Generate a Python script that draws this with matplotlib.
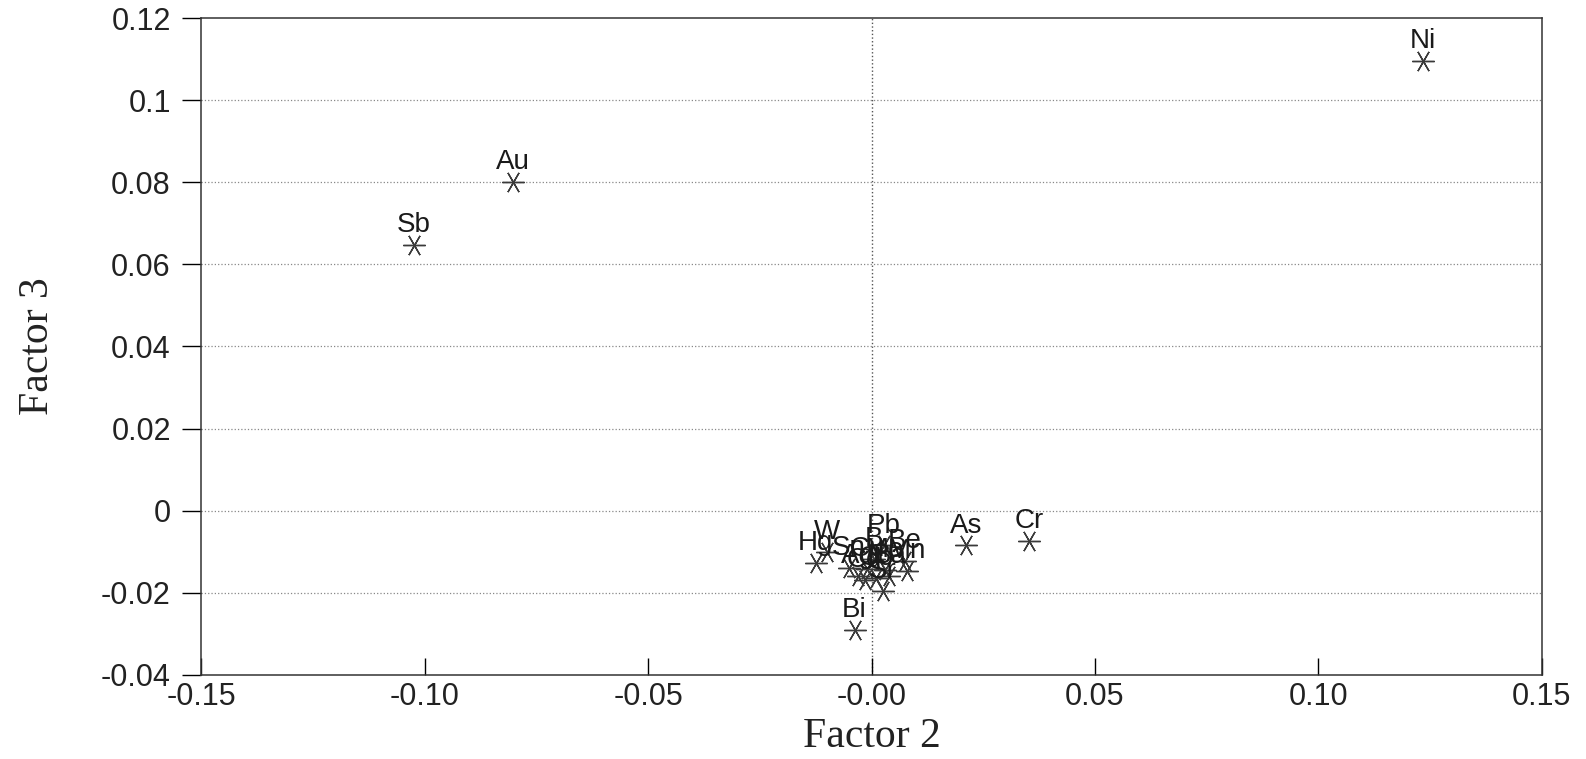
import matplotlib
matplotlib.use("Agg")
import matplotlib.pyplot as plt
import numpy as np

# element loadings on factor 2 / factor 3
elements = ["Ni", "Au", "Sb", "As", "Cr", "Bi",
            "W", "Hg", "Pb", "B", "Be", "Sn", "Cu", "Mo", "Mn",
            "Ag", "Co", "Ba", "Cd", "Sr"]
factor2 = [0.1235, -0.0802, -0.1024, 0.0211, 0.0352, -0.0038,
           -0.0100, -0.0125, 0.0028, 0.0005, 0.0075, -0.0050, -0.0010, 0.0030, 0.0080,
           -0.0030, 0.0010, 0.0040, -0.0015, 0.0025]
factor3 = [0.1096, 0.0800, 0.0648, -0.0085, -0.0073, -0.0292,
           -0.0100, -0.0128, -0.0085, -0.0118, -0.0122, -0.0140, -0.0143, -0.0145, -0.0148,
           -0.0160, -0.0165, -0.0160, -0.0170, -0.0195]

xticks = [-0.15, -0.10, -0.05, 0.0, 0.05, 0.10, 0.15]
xticklabels = ["-0.15", "-0.10", "-0.05", "-0.00", "0.05", "0.10", "0.15"]
yticks = [-0.04, -0.02, 0.0, 0.02, 0.04, 0.06, 0.08, 0.10, 0.12]
yticklabels = ["-0.04", "-0.02", "0", "0.02", "0.04", "0.06", "0.08", "0.1", "0.12"]

fig = plt.figure(figsize=(15.86, 7.59), dpi=100)
ax = fig.add_axes([0.127, 0.111, 0.845, 0.865])

ax.set_xlim(-0.15, 0.15)
ax.set_ylim(-0.04, 0.12)

# dotted reference lines
for y in yticks[1:-1]:
    ax.axhline(y, color="#888888", linestyle=":", linewidth=0.9, zorder=1)
ax.axvline(0, color="#555555", linestyle=":", linewidth=1.0, zorder=1)

ax.plot(factor2, factor3, linestyle="none", marker=(6, 2, 90), markersize=16,
        markeredgewidth=1.0, color="#3a3a3a", zorder=3)

for name, x, y in zip(elements, factor2, factor3):
    ax.annotate(name, (x, y), xytext=(0, 5), textcoords="offset points",
                ha="center", va="bottom", fontsize=20, color="#1a1a1a",
                family="Liberation Sans", zorder=4)

ax.set_xticks(xticks)
ax.set_xticklabels(xticklabels, family="Liberation Sans", fontsize=22, color="#222222")
ax.set_yticks(yticks)
ax.set_yticklabels(yticklabels, family="Liberation Sans", fontsize=22, color="#222222")
ax.tick_params(axis="x", direction="in", length=12, width=1, pad=5)
ax.tick_params(axis="y", direction="out", length=14, width=1, pad=8)

for s in ax.spines.values():
    s.set_color("#333333")
    s.set_linewidth(1.1)

ax.set_xlabel("Factor 2", family="Liberation Serif", fontsize=30, color="#222222", labelpad=4)
ax.set_ylabel("Factor 3", family="Liberation Serif", fontsize=30, color="#222222", labelpad=32)

fig.savefig("out.png", dpi=100)
